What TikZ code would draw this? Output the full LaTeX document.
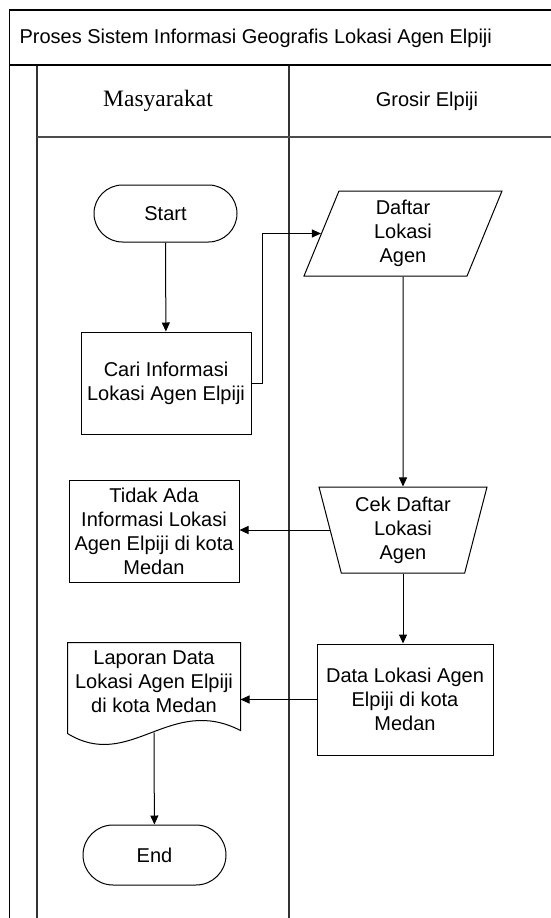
\documentclass[tikz,border=0pt]{standalone}
\usepackage{fontspec}
\setmainfont{Liberation Sans}
\newfontfamily\serifhead{Liberation Serif}
\usetikzlibrary{shapes.geometric,arrows.meta}

\begin{document}
\begin{tikzpicture}[x=1pt,y=-1pt,font=\fontsize{20}{24}\selectfont,
    flow/.style={-{Triangle[length=9pt,width=8pt]},line width=1pt},
    terminal/.style={rectangle,rounded corners=28.5pt,minimum width=143,minimum height=57},
    process/.style={rectangle,minimum width=170,minimum height=102}]
                    \useasboundingbox (0,0) rectangle (551,918);
                    \begin{scope}
                        \clip (0,0) rectangle (551,918);
                        \draw[line width=1.2pt] (9.5,10) rectangle (570,930);
                        \draw[line width=2.4pt] (9.5,65) -- (570,65);
                        \draw[line width=1.6pt,black!80] (37,66) -- (37,930);
                        \draw[line width=1.6pt,black!80] (289,66) -- (289,930);
                        \draw[line width=1.2pt,black!70] (37,137) -- (570,137);
                    \end{scope}
                    \node[anchor=west] (Pool) at (16,38) {Proses Sistem Informasi Geografis Lokasi Agen Elpiji};
                    \node (Lane1) at (158,101) {\serifhead\fontsize{23.5}{26}\selectfont Masyarakat};
                    \node (Lane2) at (427,101) {Grosir Elpiji};
                    \begin{scope}[every node/.style={draw,line width=1pt,align=center,inner sep=1pt}]
                        \node[terminal] (Start) at (165.5,213.5) {Start};
                        \node[process] (Cari) at (166,383) {Cari Informasi\\Lokasi Agen Elpiji};
                        \node[trapezium,trapezium left angle=63,trapezium right angle=117,
                              trapezium stretches body,minimum width=198,minimum height=85] (Daftar) at (403,233.5) {Daftar\\Lokasi\\Agen};
                        \node[trapezium,trapezium left angle=108,trapezium right angle=108,
                              trapezium stretches body,minimum width=168,minimum height=86] (Cek) at (403,530) {Cek Daftar\\Lokasi\\Agen};
                        \node[process] (Tidak) at (154,531) {Tidak Ada\\Informasi Lokasi\\Agen Elpiji di kota\\Medan};
                        \node[rectangle,minimum width=176,minimum height=111] (Data) at (405,699.5) {Data Lokasi Agen\\Elpiji di kota\\Medan};
                        \node[draw=none,rectangle,minimum width=172,minimum height=78] (Laporan) at (154,682) {Laporan Data\\Lokasi Agen Elpiji\\di kota Medan};
                        \node[terminal,minimum height=60,rounded corners=30pt] (End) at (154.5,855) {End};
                    \end{scope}
                    % document shape with wavy bottom
                    \draw[line width=1pt] ([yshift=-12pt]Laporan.south west) -- (Laporan.north west) -- (Laporan.north east) -- ([yshift=-9pt]Laporan.south east)
                        .. controls (170,694) and (130,772) .. ([yshift=-12pt]Laporan.south west);
                    \begin{scope}[every path/.style={flow}]
                        \draw (Start) -- (Cari);
                        \draw (Cari.east) -- ++(11,0) |- (Daftar.west);
                        \draw (Daftar.center |- Daftar.south) -- (Cek.north);
                        \draw (Cek.west) -- (Cek.west -| Tidak.east);
                        \draw (Cek.south) -- (Cek.south |- Data.north);
                        \draw (Data.west) -- (Data.west -| Laporan.east);
                        \draw ([yshift=-11pt]Laporan.south) -- (End);
                    \end{scope}
                \end{tikzpicture}
\end{document}
